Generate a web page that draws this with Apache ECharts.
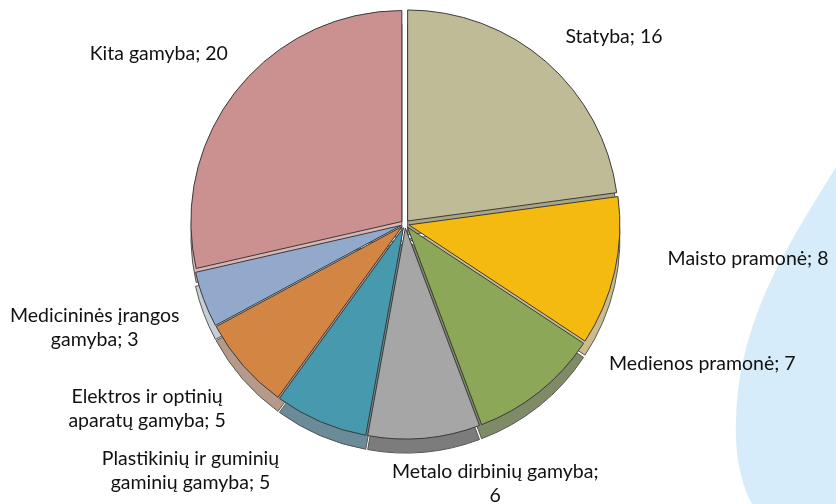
<!DOCTYPE html>
<html>
<head>
<meta charset="utf-8">
<script src="https://cdn.jsdelivr.net/npm/echarts@6/dist/echarts.min.js"></script>
<style>
  html, body { margin: 0; padding: 0; background: #fff; }
  #chart { width: 836px; height: 504px; }
</style>
</head>
<body>
<div id="chart"></div>
<script>
  // data
  const categories = ['Statyba', 'Maisto pramonė', 'Medienos pramonė', 'Metalo dirbinių gamyba',
    'Plastikinių ir guminių gaminių gamyba', 'Elektros ir optinių aparatų gamyba',
    'Medicininės įrangos gamyba', 'Kita gamyba'];
  const values = [16, 8, 7, 6, 5, 5, 3, 20];

  // styles
  const topColors = ['#C0BB97', '#F4BA10', '#8BA757', '#A6A6A6', '#4799AE', '#D38644', '#93A9CB', '#CB9190'];
  const sideColors = ['#A9A483', '#CDBB8E', '#7F8A66', '#7C7C7C', '#6A8B97', '#B5998A', '#C6CED8', '#D8B4B3'];
  // where the label wraps (token that starts the new line)
  const labelBreak = [null, null, null, '; ', ' gaminių', ' aparatų', ' gamyba', null];
  // label shifts from the default outside position [dx, dy, align]
  const labelShift = [
    [14, -25, null],
    [48, -13, null],
    [65, -28, null],
    [66, 46, 'center'],
    [-125, 49, 'center'],
    [-91, 43, 'center'],
    [-104, 28, 'center'],
    [-4, -36, null]
  ];

  const cx = 405, cy = 224, r = 211, depth = 14;

  function makeData(colors) {
    return categories.map((name, i) => ({
      name: name,
      value: values[i],
      selected: true,
      itemStyle: { color: colors[i] }
    }));
  }

  // outline of the blue backdrop, sampled from two cubic curves
  function cubic(p0, p1, p2, p3, n, out) {
    for (let k = 0; k <= n; k++) {
      let t = k / n, u = 1 - t;
      out.push([
        u * u * u * p0[0] + 3 * u * u * t * p1[0] + 3 * u * t * t * p2[0] + t * t * t * p3[0],
        u * u * u * p0[1] + 3 * u * u * t * p1[1] + 3 * u * t * t * p2[1] + t * t * t * p3[1]
      ]);
    }
    return out;
  }
  let blob = [];
  cubic([836, 167], [795, 235], [738, 315], [736, 420], 30, blob);
  cubic([736, 420], [734, 460], [744, 490], [752, 504], 12, blob);
  blob.push([836, 504]);

  let chart = echarts.init(document.getElementById('chart'));
  let option = {
    animation: false,
    graphic: [{
      type: 'polygon',
      z: 0,
      silent: true,
      shape: { points: blob },
      style: { fill: '#D6ECFA' }
    }],
    series: [{
      // side of the 3d pie
      type: 'pie',
      center: [cx, cy + depth],
      radius: r,
      startAngle: 90,
      clockwise: true,
      selectedMode: 'multiple',
      selectedOffset: 4,
      silent: true,
      z: 1,
      label: { show: false },
      labelLine: { show: false },
      itemStyle: { borderColor: '#555', borderWidth: 1 },
      select: { itemStyle: { borderColor: '#555', borderWidth: 1 } },
      emphasis: { disabled: true },
      data: makeData(sideColors)
    }, {
      type: 'pie',
      center: [cx, cy],
      radius: r,
      startAngle: 90,
      clockwise: true,
      selectedMode: 'multiple',
      selectedOffset: 4,
      avoidLabelOverlap: false,
      z: 2,
      itemStyle: { borderColor: '#3a3a3a', borderWidth: 1 },
      select: { itemStyle: { borderColor: '#3a3a3a', borderWidth: 1 } },
      emphasis: { disabled: true },
      label: {
        show: true,
        position: 'outside',
        color: '#111',
        fontFamily: 'Lato',
        fontSize: 19.5,
        lineHeight: 24,
        formatter: function (p) {
          let text = p.name + '; ' + p.value;
          let tok = labelBreak[p.dataIndex];
          if (tok) {
            text = text.replace(tok, tok === '; ' ? ';\n' : '\n' + tok.trim());
          }
          return text;
        }
      },
      labelLine: { show: false, length: 0, length2: 0 },
      labelLayout: function (p) {
        let s = labelShift[p.dataIndex];
        let res = { dx: s[0], dy: s[1] };
        if (s[2]) res.align = s[2];
        return res;
      },
      data: makeData(topColors)
    }]
  };
  chart.setOption(option);
  window.addEventListener('resize', function () {
    chart.resize();
  });
</script>
</body>
</html>
